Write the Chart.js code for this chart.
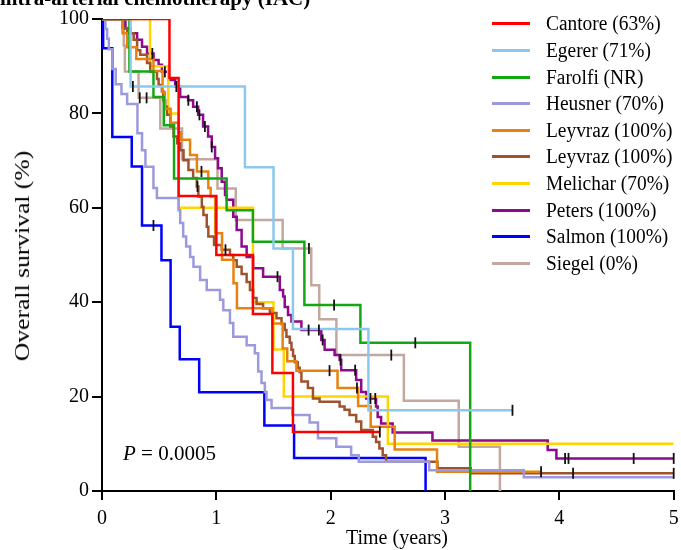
<!DOCTYPE html>
<html>
<head>
<meta charset="utf-8">
<script src="https://cdn.jsdelivr.net/npm/chart.js@4.4.0/dist/chart.umd.min.js"></script>
<style>
  body { margin: 0; background: #fff; }
  #wrap { position: relative; width: 681px; height: 550px; overflow: hidden; font-family: "Liberation Serif", "Times New Roman", serif; color: #000; }
  #chart { position: absolute; left: 0; top: 0; }
  .title { position: absolute; left: 0; top: -12px; font-weight: bold; font-size: 21px; line-height: 21px; white-space: nowrap; }
  #legend { position: absolute; left: 490px; top: 10px; width: 190px; height: 270px; }
  .row { position: absolute; left: 0; height: 26px; width: 190px; font-size: 19.4px; line-height: 26px; white-space: nowrap; }
  .row i { position: absolute; left: 2px; top: 12px; width: 38px; height: 3px; }
  .row span { position: absolute; left: 56px; top: 0; display: inline-block; transform: scaleY(1.1); }
  .pval { position: absolute; left: 123px; top: 441px; font-size: 21px; white-space: nowrap; }
  .ytitle { position: absolute; left: 22px; top: 256px; font-size: 20px; line-height: 20px; white-space: nowrap;
            transform: translate(-50%, -50%) rotate(-90deg) scaleX(1.28); }
  .xtitle { position: absolute; left: 397px; top: 537px; font-size: 20px; line-height: 20px; white-space: nowrap;
            transform: translate(-50%, -50%); }
</style>
</head>
<body>
<div id="wrap">
  <canvas id="chart" width="681" height="550"></canvas>
  <div class="title">intra-arterial chemotherapy (IAC)</div>
  <div id="legend"></div>
  <div class="pval"><i>P</i> = 0.0005</div>
  <div class="ytitle">Overall survival (%)</div>
  <div class="xtitle">Time (years)</div>
</div>
<script>
// Kaplan-Meier steps: [time (years), survival (%)]
const cantore = [[0,100],[0.59,87.5],[0.67,62.5],[1.0,50],[1.32,37.5],[1.49,25],[1.67,12.5],[2.43,12.5]];
const cantoreCens = [2.43];

const egerer = [[0,100],[0.25,85.7],[1.25,68.6],[1.5,51.4],[1.67,34.3],[2.33,17.1],[3.59,17.1]];
const egererCens = [0.27, 3.59];

const farolfi = [[0,100],[0.24,88.9],[0.45,83.5],[0.54,77.5],[0.63,66.2],[1.09,59.5],[1.32,52.8],[1.77,39.4],[2.26,31.4],[3.22,0]];
const farolfiCens = [2.03, 2.74];

const heusner = [[0,100],[0.03,97.9],[0.045,95.8],[0.06,93.6],[0.09,89.4],[0.12,86.2],[0.17,84.1],[0.22,82.0],
  [0.31,75.8],[0.35,72.2],[0.38,68.7],[0.45,64.2],[0.48,62.1],[0.67,59.5],[0.684,56.8],[0.71,53.9],[0.736,51.8],
  [0.771,49.6],[0.80,47.5],[0.858,44.7],[0.916,42.6],[1.032,40.5],[1.061,38.3],[1.119,35.6],[1.148,32.7],
  [1.265,30.9],[1.337,29.2],[1.366,25.3],[1.395,22.9],[1.424,21.0],[1.439,19.3],[1.483,17.6],[1.666,16.1],
  [1.816,14.5],[1.889,11.2],[2.049,9.4],[2.179,7.6],[2.246,6.2],[2.862,4.4],[3.689,2.9],[5.0,2.9]];
const heusnerCens = [];

const leyvrazA = [[0,100],[0.18,97],[0.22,94],[0.30,91.5],[0.45,89],[0.53,84.5],[0.55,81],[0.60,78],[0.67,76],
  [0.69,74.4],[0.77,71.2],[0.83,67.7],[0.93,64.2],[0.95,62.4],[0.99,54.6],[1.05,49],[1.15,44],[1.18,38.7],
  [1.49,35.5],[1.58,30.2],[1.62,27.5],[1.70,25.5],[2.06,21.8],[2.24,18.0],[2.35,13.6],[2.56,8.8],[2.93,4.1],[3.84,4.1]];
const leyvrazACens = [0.87, 1.99, 2.23, 3.84];

const leyvrazB = [[0,100],[0.18,98.1],[0.22,97.0],[0.277,95.6],[0.307,93.4],[0.335,92.4],[0.394,90.7],[0.422,88.8],
  [0.481,87.3],[0.495,86.0],[0.524,84.7],[0.536,82.8],[0.553,81.4],[0.568,79.7],[0.597,77.2],[0.625,75.1],
  [0.658,73.7],[0.684,72.2],[0.713,70.1],[0.756,68.0],[0.797,66.3],[0.829,64.5],[0.843,62.4],[0.873,60.2],
  [0.887,58.5],[0.916,56.0],[0.930,53.9],[0.980,52.1],[1.047,51.1],[1.119,50.0],[1.148,48.9],[1.178,47.5],
  [1.221,46.0],[1.265,44.3],[1.294,42.6],[1.322,40.9],[1.352,39.6],[1.409,38.7],[1.468,37.7],[1.526,36.6],
  [1.570,35.4],[1.598,34.1],[1.613,32.7],[1.642,31.4],[1.657,29.9],[1.671,28.6],[1.686,27.3],[1.712,26.1],
  [1.729,25.2],[1.744,23.2],[1.801,21.8],[1.845,19.6],[1.903,18.9],[2.078,17.9],[2.121,17.2],[2.165,16.1],
  [2.223,14.7],[2.267,12.9],[2.368,11.5],[2.397,10.4],[2.426,9.0],[2.455,7.6],[2.484,6.2],[2.934,4.8],[3.225,3.75],[5.0,3.75]];
const leyvrazBCens = [0.835, 1.08, 4.12, 5.0];

const melichar = [[0,100],[0.42,90],[0.58,80],[0.67,60],[1.32,40],[1.5,30],[1.59,20],[2.5,10],[5.0,10]];
const melicharCens = [];

const peters = [[0,100],[0.205,98.0],[0.248,97.0],[0.307,95.6],[0.350,94.1],[0.394,92.7],[0.451,91.3],[0.495,90.3],
  [0.524,88.8],[0.582,87.1],[0.640,85.7],[0.684,83.5],[0.753,82.8],[0.797,81.4],[0.841,79.7],[0.884,77.2],
  [0.928,75.1],[0.960,72.9],[0.989,70.5],[1.015,68.4],[1.047,65.5],[1.076,62.7],[1.091,61.7],[1.148,58.1],
  [1.178,55.3],[1.221,51.8],[1.265,49.6],[1.322,47.2],[1.409,45.4],[1.555,42.6],[1.584,41.2],[1.598,39.0],
  [1.627,37.3],[1.657,35.9],[1.744,34.1],[1.918,32.0],[1.947,29.9],[2.034,28.8],[2.078,27.8],[2.092,25.6],
  [2.223,23.5],[2.267,21.0],[2.310,19.6],[2.397,17.9],[2.411,15.7],[2.441,14.3],[2.542,12.4],[2.890,10.7],
  [3.898,8.7],[3.974,6.9],[5.0,6.9]];
const petersCens = [0.44, 0.55, 0.65, 0.755, 0.83, 0.852, 0.90, 0.96, 1.535, 1.807, 1.897, 1.93, 2.086, 2.214, 2.348, 2.39, 4.05, 4.08, 4.65, 5.0];

const salmon = [[0,100],[0.01,93.8],[0.09,75],[0.26,68.75],[0.35,56.25],[0.52,48.9],[0.60,34.8],[0.68,27.9],[0.85,20.9],[1.42,13.9],[1.68,7.0],[2.83,0]];
const salmonCens = [0.45];

const siegel = [[0,100],[0.19,94.4],[0.20,88.9],[0.32,83.3],[0.51,76.8],[0.70,70.3],[1.01,64.1],[1.17,57.4],[1.58,51.4],
  [1.83,43.6],[1.90,36.4],[2.05,28.8],[2.64,19.1],[3.12,9.4],[3.48,0]];
const siegelCens = [0.33, 0.39, 1.81, 2.53];

const studies = ['Cantore (63%)', 'Egerer (71%)', 'Farolfi (NR)', 'Heusner (70%)', 'Leyvraz (100%)',
  'Leyvraz (100%)', 'Melichar (70%)', 'Peters (100%)', 'Salmon (100%)', 'Siegel (0%)'];
const curves = [cantore, egerer, farolfi, heusner, leyvrazA, leyvrazB, melichar, peters, salmon, siegel];
const censored = [cantoreCens, egererCens, farolfiCens, heusnerCens, leyvrazACens, leyvrazBCens, melicharCens, petersCens, salmonCens, siegelCens];
const colors = ['#ff0000', '#8cc8ee', '#13a813', '#9c9ade', '#e8820f', '#a0522d', '#ffd400', '#8c0a8c', '#0000ff', '#c2a89e'];

const xTicks = [0, 1, 2, 3, 4, 5];
const yTicks = [0, 20, 40, 60, 80, 100];

// survival at time t for a step curve (used to place the censor ticks)
function survAt(curve, t) {
    let s = curve[0][1];
    for (const p of curve) { if (p[0] <= t) s = p[1]; }
    return s;
}

const FONT = '"Liberation Serif", "Times New Roman", serif';

const datasets = [];
curves.forEach((c, i) => {
    datasets.push({
        label: studies[i],
        data: c.map(p => ({ x: p[0], y: p[1] })),
        borderColor: colors[i],
        borderWidth: 2.5,
        stepped: true,
        pointRadius: 0,
        fill: false,
        order: 1
    });
});
censored.forEach((cs, i) => {
    if (!cs.length) return;
    datasets.push({
        label: 'cens',
        data: cs.map(t => ({ x: t, y: survAt(curves[i], t) })),
        showLine: false,
        pointStyle: 'line',
        pointRotation: 90,
        pointRadius: 5.5,
        pointBorderColor: '#111',
        pointBorderWidth: 1.8,
        clip: false,
        order: 0
    });
});

new Chart(document.getElementById('chart'), {
    type: 'line',
    data: { datasets: datasets },
    options: {
        responsive: false,
        animation: false,
        devicePixelRatio: 1,
        layout: { padding: { top: 19, right: 5, left: 0, bottom: 0 } },
        plugins: { legend: { display: false }, tooltip: { enabled: false } },
        scales: {
            x: {
                type: 'linear', min: 0, max: 5,
                afterBuildTicks: s => { s.ticks = xTicks.map(v => ({ value: v })); },
                afterFit: s => { s.height = 59; s.paddingLeft = 0; s.paddingRight = 5; },
                ticks: { color: '#000', font: { family: FONT, size: 20 }, padding: 7, maxRotation: 0 },
                grid: { drawOnChartArea: false, drawTicks: true, tickLength: 9, color: '#000', lineWidth: 2 },
                border: { color: '#000', width: 2 }
            },
            y: {
                min: 0, max: 100,
                afterBuildTicks: s => { s.ticks = yTicks.map(v => ({ value: v })); },
                afterFit: s => { s.width = 102; },
                ticks: { color: '#000', font: { family: FONT, size: 20 }, padding: 3 },
                grid: { drawOnChartArea: false, drawTicks: true, tickLength: 10, color: '#000', lineWidth: 2 },
                border: { color: '#000', width: 2 }
            }
        }
    }
});

// legend in the upper right
const legendEl = document.getElementById('legend');
studies.forEach((name, i) => {
    const row = document.createElement('div');
    row.className = 'row';
    row.style.top = (0.3 + i * 26.6) + 'px';
    row.innerHTML = '<i style="background:' + colors[i] + '"></i><span>' + name + '</span>';
    legendEl.appendChild(row);
});
</script>
</body>
</html>
